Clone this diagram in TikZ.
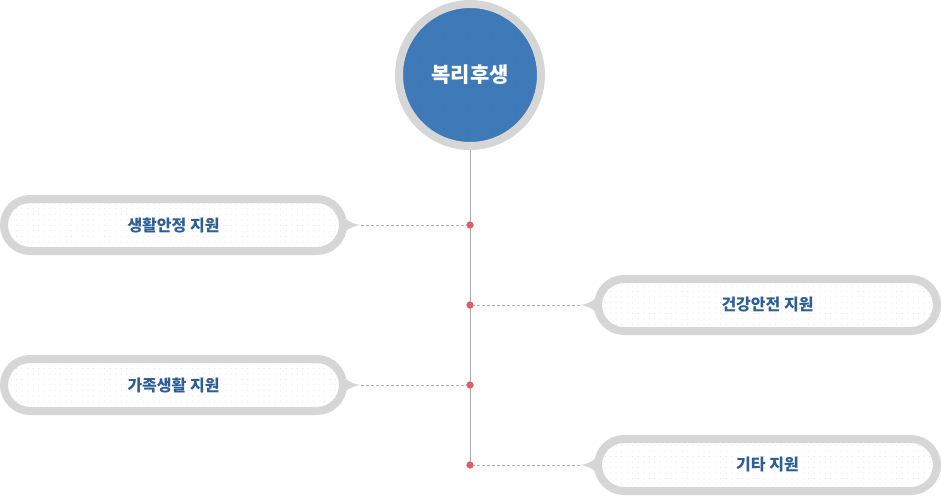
\documentclass[tikz,border=0pt]{standalone}
\usepackage{fontspec}
\setmainfont{Noto Sans CJK KR}
\usetikzlibrary{patterns.meta}
\definecolor{ring}{HTML}{D6D6D6}
\definecolor{hubblue}{HTML}{3F7AB8}
\definecolor{hubdot}{HTML}{3A70A8}
\definecolor{txtblue}{HTML}{2D5E96}
\definecolor{spine}{HTML}{AAAAAA}
\definecolor{reddot}{HTML}{E35D6A}
\tikzset{
  hub/.style={circle, draw=ring, line width=8pt, minimum size=142pt, inner sep=0pt,
    preaction={fill=hubblue},
    pattern={Dots[radius=0.7pt, distance=6pt]}, pattern color=hubdot,
    text=white, font=\bfseries\fontsize{21}{24}\selectfont},
  pill/.style={rectangle, rounded corners=26pt, draw=ring, line width=8pt,
    minimum width=339pt, minimum height=52pt, inner sep=0pt,
    preaction={fill=white},
    pattern={Dots[radius=0.5pt, distance=5.5pt]}, pattern color=black!12,
    text=txtblue, font=\bfseries\fontsize{16}{19}\selectfont},
  tail/.style={fill=ring, draw=none},
  link/.style={draw=spine!90, line width=0.8pt, dash pattern=on 3pt off 2pt},
  knot/.style={circle, fill=reddot, inner sep=0pt, minimum size=7pt},
}
\begin{document}
\begin{tikzpicture}[x=1pt,y=-1pt]
\useasboundingbox (0,0) rectangle (941,495);
% spine
\coordinate (top) at (470,150);
\coordinate (bot) at (470,465);
\draw[spine, line width=1pt] (top) -- (bot);
% hub
\node[hub] (hub) at (470,75) {복리후생};
% pills
\node[pill] (p1) at (173.5,225) {생활안정 지원};
\node[pill] (p2) at (767.5,305) {건강안전 지원};
\node[pill] (p3) at (173.5,385) {가족생활 지원};
\node[pill] (p4) at (767.5,465) {기타 지원};
% tails
\foreach \n/\y in {p1/225,p3/385}{
  \fill[tail] (340,\y-11) .. controls (348,\y-4) and (352,\y-1) .. (361,\y)
     .. controls (352,\y+1) and (348,\y+4) .. (340,\y+11) -- cycle;
  \coordinate (\n t) at (361,\y);
}
\foreach \n/\y in {p2/305,p4/465}{
  \fill[tail] (601,\y-11) .. controls (593,\y-4) and (589,\y-1) .. (580,\y)
     .. controls (589,\y+1) and (593,\y+4) .. (601,\y+11) -- cycle;
  \coordinate (\n t) at (580,\y);
}
% knots
\node[knot] (k1) at (470,225) {};
\node[knot] (k2) at (470,305) {};
\node[knot] (k3) at (470,385) {};
\node[knot] (k4) at (470,465) {};
% links
\draw[link] (p1t) -- (k1.center);
\draw[link] (p2t) -- (k2.center);
\draw[link] (p3t) -- (k3.center);
\draw[link] (p4t) -- (k4.center);
\foreach \k in {k1,k2,k3,k4} \node[knot] at (\k) {};
\end{tikzpicture}
\end{document}
